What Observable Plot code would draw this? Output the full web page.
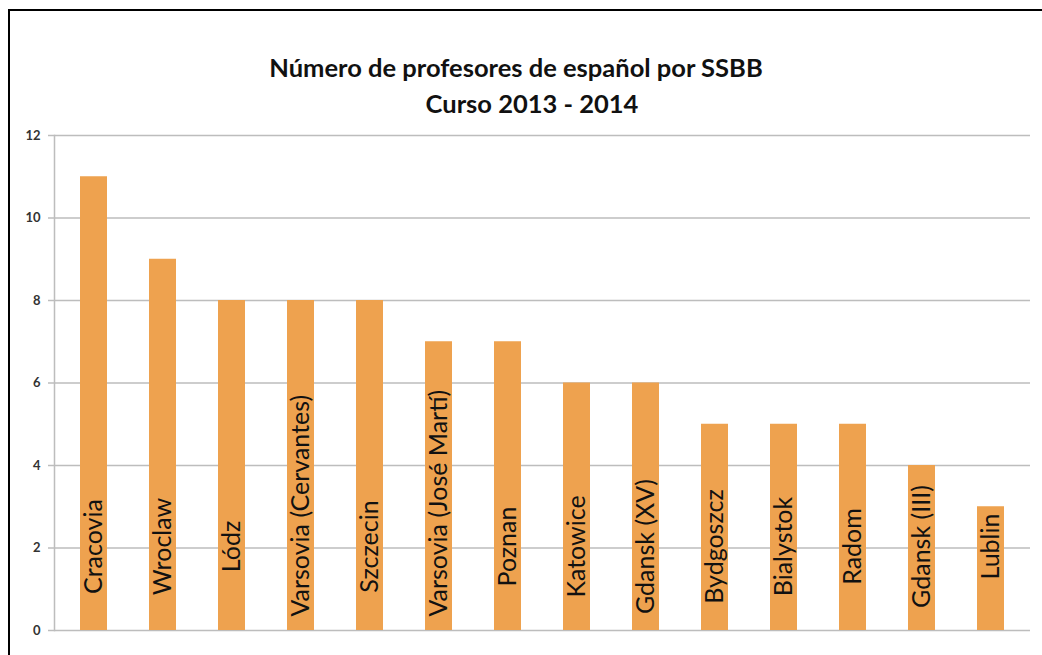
<!DOCTYPE html>
<html>
<head>
<meta charset="utf-8">
<script src="https://cdn.jsdelivr.net/npm/d3@7"></script>
<script src="https://cdn.jsdelivr.net/npm/@observablehq/plot@0.6"></script>
<style>
  html, body { margin: 0; padding: 0; background: #fff; }
  #page { position: relative; width: 1042px; height: 655px; overflow: hidden; }
  #frame { position: absolute; left: 8px; top: 9px; width: 1100px; height: 700px;
           border-top: 2px solid #000; border-left: 2px solid #000; pointer-events: none; }
  #title { position: absolute; left: 0; top: 49px; width: 1032px; text-align: center;
           font-family: Lato, "Open Sans", sans-serif; font-weight: 700; font-size: 25.5px;
           line-height: 36px; color: #111; }
  #title .l2 { display: inline-block; padding-left: 32px; }
  #chart { position: absolute; left: 0; top: 115px; }
</style>
</head>
<body>
<div id="page">
  <div id="frame"></div>
  <div id="title">Número de profesores de español por SSBB<br><span class="l2">Curso 2013 - 2014</span></div>
  <div id="chart"></div>
</div>
<script>
const cities = ["Cracovia", "Wroclaw", "Lódz", "Varsovia (Cervantes)", "Szczecin",
  "Varsovia (José Martí)", "Poznan", "Katowice", "Gdansk (XV)", "Bydgoszcz",
  "Bialystok", "Radom", "Gdansk (III)", "Lublin"];
const teachers = [11, 9, 8, 8, 8, 7, 7, 6, 6, 5, 5, 5, 4, 3];
const yTicks = [0, 2, 4, 6, 8, 10, 12];

const data = cities.map((c, i) => ({city: c, value: teachers[i]}));
const isLong = (d) => d.city.length > 15;

const plot = Plot.plot({
  width: 1042,
  height: 540,
  marginLeft: 54,
  marginRight: 12,
  marginTop: 20,
  marginBottom: 25,
  style: {fontFamily: "Lato, Open Sans, sans-serif", background: "transparent"},
  x: {domain: cities, paddingInner: 0.61, paddingOuter: 0.31, axis: null},
  y: {domain: [0, 12], ticks: yTicks},
  marks: [
    Plot.gridY(yTicks, {stroke: "#bdbdbd", strokeOpacity: 1, strokeWidth: 1.5}),
    Plot.frame({anchor: "left", stroke: "#bdbdbd", strokeWidth: 1.5}),
    Plot.axisY(yTicks, {tickSize: 6, tickPadding: 8, stroke: "#bdbdbd", strokeWidth: 1.5,
      fontSize: 13, fontWeight: 700, fill: "#333", label: null}),
    Plot.barY(data, {x: "city", y: "value", fill: "#eea24f"}),
    Plot.text(data, {filter: (d) => !isLong(d), x: "city", y: () => 0, dy: -84, rotate: -90,
      text: "city", fontSize: 25, fill: "#111", textAnchor: "middle"}),
    Plot.text(data, {filter: isLong, x: "city", y: () => 0, dy: -14, rotate: -90,
      text: "city", fontSize: 25, fill: "#111", textAnchor: "start"})
  ]
});
document.getElementById("chart").appendChild(plot);
</script>
</body>
</html>
